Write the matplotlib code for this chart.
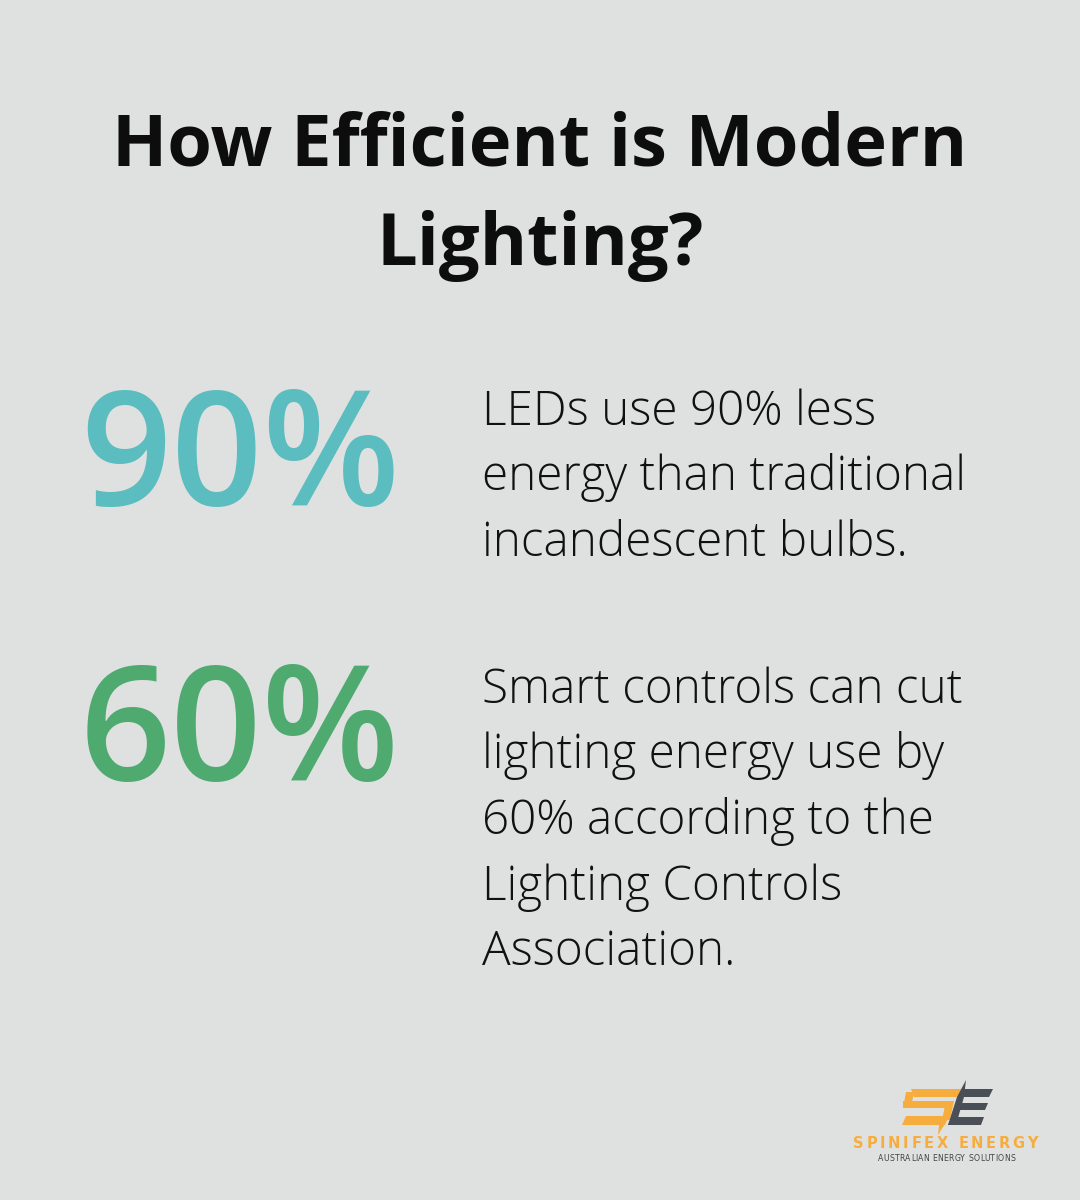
import matplotlib
matplotlib.use("Agg")
import matplotlib.pyplot as plt
from matplotlib.patches import Polygon

# content
title_lines = ["How Efficient is Modern", "Lighting?"]
stat_values = ["90%", "60%"]
stat_colors = ["#5BBDBF", "#4EAA6E"]
stat_texts = [
    ["LEDs use 90% less", "energy than traditional", "incandescent bulbs."],
    ["Smart controls can cut", "lighting energy use by", "60% according to the",
     "Lighting Controls", "Association."],
]
brand_name = "SPINIFEX ENERGY"
brand_tag = "AUSTRALIAN ENERGY SOLUTIONS"

BG = "#DFE1E0"
W, H = 1080, 1200

fig = plt.figure(figsize=(W / 100, H / 100), dpi=100, facecolor=BG)


def px(x, y):
    return x / W, 1 - y / H


# title
title_base = [165, 265]
for line, yb in zip(title_lines, title_base):
    fig.text(*px(540, yb), line, ha="center", va="baseline", fontsize=52,
             family="Open Sans", fontweight="bold", color="#0d0d0d")

# stats
num_base = [505, 780]
text_base = [425, 703]
for val, col, lines, nb, tb in zip(stat_values, stat_colors, stat_texts, num_base, text_base):
    fig.text(*px(80, nb), val, ha="left", va="baseline", fontsize=115,
             family="Open Sans", fontweight="semibold", color=col)
    for i, ln in enumerate(lines):
        fig.text(*px(482, tb + i * 65.5), ln, ha="left", va="baseline", fontsize=34.3,
                 family="Open Sans", fontweight="light", color="#111111")

# logo: stylised S and E
ax = fig.add_axes([0, 0, 1, 1], facecolor="none")
ax.set_xlim(0, W)
ax.set_ylim(H, 0)
ax.axis("off")

orange = "#F7AD3E"
grey = "#4A4F57"
s_parts = [
    [(911, 1089), (962, 1089), (958, 1097), (914, 1097)],
    [(906, 1092), (914, 1092), (911, 1108), (903, 1108)],
    [(903, 1101), (954, 1101), (951, 1108), (903, 1108)],
    [(946, 1101), (954, 1101), (950, 1120), (942, 1120)],
    [(906, 1116), (948, 1116), (945, 1125), (902, 1125)],
    [(940, 1116), (950, 1116), (938, 1135)],
]
e_parts = [
    [(963, 1089), (993, 1089), (989, 1097), (960, 1097)],
    [(958, 1103), (988, 1103), (985, 1110), (955, 1110)],
    [(952, 1117), (984, 1117), (981, 1125), (948, 1125)],
    [(966, 1080), (964, 1097), (956, 1125), (948, 1125), (957, 1097)],
]
for p in s_parts:
    ax.add_patch(Polygon(p, closed=True, color=orange, lw=0))
for p in e_parts:
    ax.add_patch(Polygon(p, closed=True, color=grey, lw=0))

renderer = fig.canvas.get_renderer()


def tracked_text(s, x0, x1, baseline, size, color, weight):
    # place letters one by one so the word spans x0..x1 (letter spacing)
    items = []
    for ch in s:
        t = fig.text(*px(x0, baseline), ch, ha="left", va="baseline", fontsize=size,
                     family="DejaVu Sans", fontweight=weight, color=color)
        w = t.get_window_extent(renderer).width if ch != " " else size * 0.45
        items.append((t, w))
    total = sum(w for _, w in items)
    track = (x1 - x0 - total) / (len(items) - 1)
    x = x0
    for t, w in items:
        t.set_position(px(x, baseline))
        x += w + track


tracked_text(brand_name, 853, 1038, 1147.5, 10.5, orange, "bold")
tracked_text(brand_tag, 878, 1015, 1161, 5.6, "#444444", "normal")

fig.savefig("out.png", dpi=100, facecolor=BG)
